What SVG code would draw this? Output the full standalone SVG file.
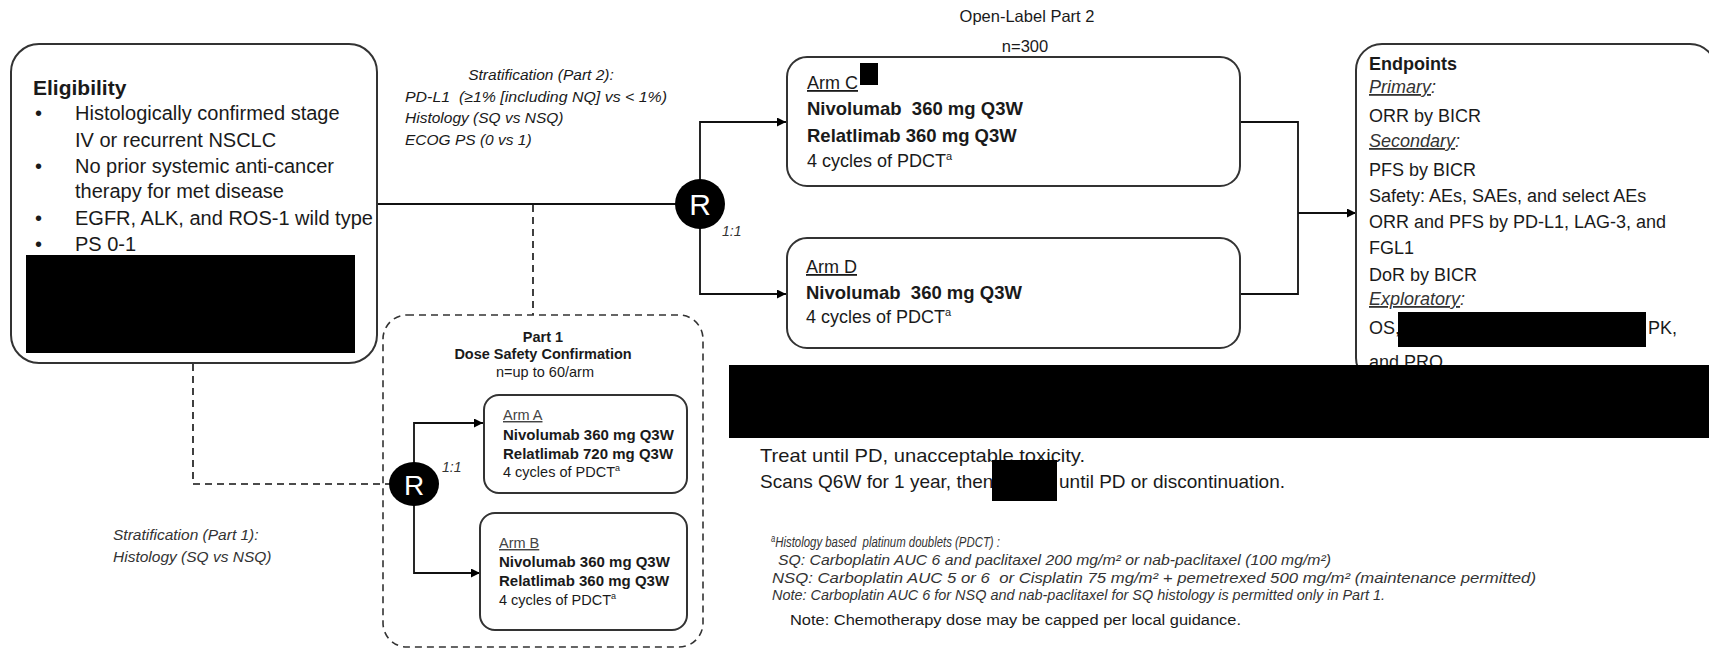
<svg xmlns="http://www.w3.org/2000/svg" width="1709" height="650" viewBox="0 0 1709 650">
<style>
  text { font-family: "Liberation Sans", Arial, sans-serif; fill: #1a1a1a; }
  .box { fill: #fff; stroke: #333; stroke-width: 2; }
  .dbox { fill: none; stroke: #333; stroke-width: 1.6; stroke-dasharray: 7 5; }
  .ln { fill: none; stroke: #111; stroke-width: 1.8; }
  .dln { fill: none; stroke: #111; stroke-width: 1.6; stroke-dasharray: 7 5; }
  .red { fill: #000; }
  .it { font-style: italic; fill: #333; }
  .b { font-weight: bold; }
  .u { text-decoration: underline; }
  .rt { fill: #fff; text-anchor: middle; }
  .g { fill: #444; }
</style>
<defs>
  <marker id="arr" viewBox="0 0 10 10" refX="10" refY="5" markerWidth="10" markerHeight="9" orient="auto" markerUnits="userSpaceOnUse">
    <path d="M0,0 L10,5 L0,10 z" fill="#000"/>
  </marker>
</defs>
<rect width="1709" height="650" fill="#fff"/>

<g id="connectors">
  <path class="ln" d="M377,204 H700"/>
  <path class="ln" d="M700,204 V122 H786" marker-end="url(#arr)"/>
  <path class="ln" d="M700,204 V294 H786" marker-end="url(#arr)"/>
  <path class="ln" d="M1240,122 H1298 V294 H1240"/>
  <path class="ln" d="M1298,213 H1356" marker-end="url(#arr)"/>
  <path class="dln" d="M533,205 V315"/>
  <path class="dln" d="M193,364 V484 H390"/>
  <path class="ln" d="M414,484 V423 H483" marker-end="url(#arr)"/>
  <path class="ln" d="M414,484 V573 H480" marker-end="url(#arr)"/>
</g>

<g id="eligibility">
  <rect class="box" x="11" y="44" width="366" height="319" rx="28"/>
  <text x="33" y="95" class="b" font-size="21">Eligibility</text>
  <g font-size="20">
    <text x="35" y="120">•</text><text x="75" y="120">Histologically confirmed stage</text>
    <text x="75" y="147">IV or recurrent NSCLC</text>
    <text x="35" y="173">•</text><text x="75" y="173">No prior systemic anti-cancer</text>
    <text x="75" y="198">therapy for met disease</text>
    <text x="35" y="225">•</text><text x="75" y="225">EGFR, ALK, and ROS-1 wild type</text>
    <text x="35" y="251">•</text><text x="75" y="251">PS 0-1</text>
  </g>
  <rect class="red" x="26" y="255" width="329" height="98"/>
</g>

<g id="strat-part2">
  <g class="it" font-size="15.5">
    <text x="541" y="80" text-anchor="middle">Stratification (Part 2):</text>
    <text x="405" y="102" xml:space="preserve" textLength="262" lengthAdjust="spacingAndGlyphs">PD-L1  (≥1% [including NQ] vs &lt; 1%)</text>
    <text x="405" y="123">Histology (SQ vs NSQ)</text>
    <text x="405" y="145">ECOG PS (0 vs 1)</text>
  </g>
</g>

<g id="rand-part2">
  <circle cx="700" cy="204" r="25" fill="#000"/>
  <text x="700" y="215" class="rt" font-size="30">R</text>
  <text x="722" y="236" class="it" font-size="14">1:1</text>
</g>

<g id="part2-header">
  <text x="1027" y="22" text-anchor="middle" font-size="16.5">Open-Label Part 2</text>
  <text x="1025" y="52" text-anchor="middle" font-size="16.5">n=300</text>
</g>

<g id="arm-c">
  <rect class="box" x="787" y="57" width="453" height="129" rx="20"/>
  <text x="807" y="89" font-size="18"><tspan class="u">Arm C</tspan></text>
  <rect class="red" x="860" y="63" width="18" height="22"/>
  <text x="807" y="115" class="b" font-size="18.5" xml:space="preserve">Nivolumab  360 mg Q3W</text>
  <text x="807" y="142" class="b" font-size="18.5">Relatlimab 360 mg Q3W</text>
  <text x="807" y="167" font-size="18" fill="#333">4 cycles of PDCT<tspan font-size="11" dy="-7">a</tspan></text>
</g>

<g id="arm-d">
  <rect class="box" x="787" y="238" width="453" height="110" rx="20"/>
  <text x="806" y="273" font-size="18"><tspan class="u">Arm D</tspan></text>
  <text x="806" y="299" class="b" font-size="18.5" xml:space="preserve">Nivolumab  360 mg Q3W</text>
  <text x="806" y="323" font-size="18" fill="#333">4 cycles of PDCT<tspan font-size="11" dy="-7">a</tspan></text>
</g>

<g id="endpoints">
  <rect class="box" x="1356" y="44" width="360" height="340" rx="26"/>
  <g font-size="18">
    <text x="1369" y="70" class="b">Endpoints</text>
    <text x="1369" y="93" class="it"><tspan class="u">Primary</tspan>:</text>
    <text x="1369" y="122">ORR by BICR</text>
    <text x="1369" y="147" class="it"><tspan class="u">Secondary</tspan>:</text>
    <text x="1369" y="176">PFS by BICR</text>
    <text x="1369" y="202">Safety: AEs, SAEs, and select AEs</text>
    <text x="1369" y="228">ORR and PFS by PD-L1, LAG-3, and</text>
    <text x="1369" y="254">FGL1</text>
    <text x="1369" y="281">DoR by BICR</text>
    <text x="1369" y="305" class="it"><tspan class="u">Exploratory</tspan>:</text>
    <text x="1369" y="334">OS,</text>
    <text x="1648" y="334">PK,</text>
    <text x="1369" y="368">and PRO</text>
  </g>
  <rect class="red" x="1398" y="312" width="248" height="35"/>
</g>

<rect id="redaction-bar" class="red" x="729" y="365" width="980" height="73"/>

<g id="treat-note">
  <text x="760" y="462" font-size="19" textLength="325" lengthAdjust="spacingAndGlyphs">Treat until PD, unacceptable toxicity.</text>
  <text x="760" y="488" font-size="19">Scans Q6W for 1 year, then</text>
  <text x="1059" y="488" font-size="19">until PD or discontinuation.</text>
  <rect class="red" x="992" y="460" width="65" height="41"/>
</g>

<g id="part1">
  <rect class="dbox" x="383" y="315" width="320" height="332" rx="24"/>
  <text x="543" y="342" text-anchor="middle" class="b" font-size="14.5">Part 1</text>
  <text x="543" y="359" text-anchor="middle" class="b" font-size="14.5">Dose Safety Confirmation</text>
  <text x="545" y="377" text-anchor="middle" font-size="14.5">n=up to 60/arm</text>
</g>

<g id="rand-part1">
  <ellipse cx="414" cy="484" rx="25" ry="22" fill="#000"/>
  <text x="414" y="495" class="rt" font-size="28">R</text>
  <text x="442" y="472" class="it" font-size="14">1:1</text>
</g>

<g id="arm-a">
  <rect class="box" x="484" y="395" width="203" height="98" rx="15"/>
  <text x="503" y="420" font-size="14.5" class="g"><tspan class="u">Arm A</tspan></text>
  <text x="503" y="440" class="b" font-size="15">Nivolumab 360 mg Q3W</text>
  <text x="503" y="459" class="b" font-size="15">Relatlimab 720 mg Q3W</text>
  <text x="503" y="477" font-size="14.5" fill="#555">4 cycles of PDCT<tspan font-size="9" dy="-6">a</tspan></text>
</g>

<g id="arm-b">
  <rect class="box" x="480" y="513" width="207" height="117" rx="15"/>
  <text x="499" y="548" font-size="14.5" class="g"><tspan class="u">Arm B</tspan></text>
  <text x="499" y="567" class="b" font-size="15">Nivolumab 360 mg Q3W</text>
  <text x="499" y="586" class="b" font-size="15">Relatlimab 360 mg Q3W</text>
  <text x="499" y="605" font-size="14.5" fill="#555">4 cycles of PDCT<tspan font-size="9" dy="-6">a</tspan></text>
</g>

<g id="strat-part1">
  <text x="113" y="540" class="it" font-size="15.5">Stratification (Part 1):</text>
  <text x="113" y="562" class="it" font-size="15.5">Histology (SQ vs NSQ)</text>
</g>

<g id="footnote" font-size="15">
  <text x="771" y="547" class="it" textLength="229" lengthAdjust="spacingAndGlyphs"><tspan font-size="10" dy="-5">a</tspan><tspan dy="5" xml:space="preserve">Histology based  platinum doublets (PDCT) :</tspan></text>
  <text x="778" y="565" class="it" textLength="553" lengthAdjust="spacingAndGlyphs">SQ: Carboplatin AUC 6 and paclitaxel 200 mg/m² or nab-paclitaxel (100 mg/m²)</text>
  <text x="772" y="583" class="it" textLength="764" lengthAdjust="spacingAndGlyphs" xml:space="preserve">NSQ: Carboplatin AUC 5 or 6  or Cisplatin 75 mg/m² + pemetrexed 500 mg/m² (maintenance permitted)</text>
  <text x="772" y="600" class="it" textLength="613" lengthAdjust="spacingAndGlyphs">Note: Carboplatin AUC 6 for NSQ and nab-paclitaxel for SQ histology is permitted only in Part 1.</text>
  <text x="790" y="625" font-size="15.5" textLength="451" lengthAdjust="spacingAndGlyphs">Note: Chemotherapy dose may be capped per local guidance.</text>
</g>
</svg>
